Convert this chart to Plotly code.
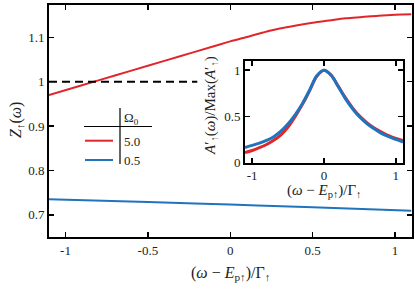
import plotly.graph_objects as go

# ---------------- data ----------------
x_main = [-1.1, -0.9, -0.7, -0.5, -0.3, -0.1, 0.0, 0.1, 0.2, 0.3, 0.4, 0.5,
          0.6, 0.7, 0.8, 0.9, 1.0, 1.1]
z_red = [0.970, 0.992, 1.014, 1.036, 1.058, 1.080, 1.091, 1.101, 1.111, 1.120,
         1.127, 1.133, 1.138, 1.143, 1.146, 1.149, 1.151, 1.152]
x_blue = [-1.1, -0.5, 0.0, 0.5, 1.1]
z_blue = [0.735, 0.729, 0.723, 0.717, 0.709]
x_dash = [-1.1, -0.2]
y_dash = [1.0, 1.0]

x_inset = [-1.1, -1.0, -0.9, -0.8, -0.7, -0.6, -0.5, -0.4, -0.3, -0.2, -0.1, 0.0,
           0.1, 0.2, 0.3, 0.4, 0.5, 0.6, 0.7, 0.8, 0.9, 1.0, 1.1]
a_red = [0.109, 0.13, 0.16, 0.195, 0.24, 0.30, 0.385, 0.50, 0.63, 0.78, 0.935, 1.0,
         0.945, 0.825, 0.70, 0.59, 0.50, 0.43, 0.375, 0.33, 0.29, 0.26, 0.239]
a_blue = [0.163, 0.185, 0.21, 0.24, 0.28, 0.34, 0.42, 0.52, 0.64, 0.785, 0.94, 1.0,
          0.945, 0.82, 0.69, 0.58, 0.49, 0.42, 0.365, 0.315, 0.28, 0.25, 0.222]

legend_labels = ["5.0", "0.5"]
legend_title = "Ω<sub>0</sub>"

main_xticks = [-1, -0.5, 0, 0.5, 1]
main_xtext = ["-1", "-0.5", "0", "0.5", "1"]
main_yticks = [0.7, 0.8, 0.9, 1.0, 1.1]
main_ytext = ["0.7", "0.8", "0.9", "1", "1.1"]
ins_xticks = [-1, 0, 1]
ins_xtext = ["-1", "0", "1"]
ins_yticks = [0, 0.5, 1]
ins_ytext = ["0", "0.5", "1"]

RED = "#e1262b"
BLUE = "#1f74bd"
W, H = 415, 291
FONT = "Liberation Serif, Times New Roman, DejaVu Serif, serif"
TXT = "#222"

def px(x):
    return x / W

def py(y):
    return 1 - y / H

fig = go.Figure()
fig.add_trace(go.Scatter(x=x_main, y=z_red, mode="lines", line=dict(color=RED, width=2, shape="spline"),
                         xaxis="x", yaxis="y", showlegend=False, hoverinfo="skip"))
fig.add_trace(go.Scatter(x=x_blue, y=z_blue, mode="lines", line=dict(color=BLUE, width=2, shape="spline"),
                         xaxis="x", yaxis="y", showlegend=False, hoverinfo="skip"))
fig.add_trace(go.Scatter(x=x_dash, y=y_dash, mode="lines", line=dict(color="black", width=1.8, dash="8px,5px"),
                         xaxis="x", yaxis="y", showlegend=False, hoverinfo="skip"))
fig.add_trace(go.Scatter(x=x_inset, y=a_red, mode="lines", line=dict(color=RED, width=3, shape="spline"),
                         xaxis="x2", yaxis="y2", showlegend=False, hoverinfo="skip"))
fig.add_trace(go.Scatter(x=x_inset, y=a_blue, mode="lines", line=dict(color=BLUE, width=3, shape="spline"),
                         xaxis="x2", yaxis="y2", showlegend=False, hoverinfo="skip"))

axcommon = dict(showline=True, linecolor="black", linewidth=2, mirror="ticks", ticks="inside",
                ticklen=5, tickwidth=1.5, tickcolor="black", showgrid=False, zeroline=False,
                tickfont=dict(family=FONT, size=13, color=TXT))

fig.update_layout(
    width=W, height=H, margin=dict(l=0, r=0, t=0, b=0, autoexpand=False),
    paper_bgcolor="white", plot_bgcolor="white",
    font=dict(family=FONT, size=13, color=TXT),
    xaxis=dict(domain=[px(49), px(411.5)], range=[-1.1, 1.1], tickvals=main_xticks, ticktext=main_xtext,
               anchor="y", **axcommon),
    yaxis=dict(domain=[py(237), py(5)], range=[0.65, 1.173], tickvals=main_yticks, ticktext=main_ytext,
               anchor="x", **axcommon),
    xaxis2=dict(domain=[px(245), px(403)], range=[-1.1, 1.1], tickvals=ins_xticks, ticktext=ins_xtext,
                anchor="y2", **axcommon),
    yaxis2=dict(domain=[py(162.5), py(61)], range=[0, 1.1], tickvals=ins_yticks, ticktext=ins_ytext,
                anchor="x2", **axcommon),
)

ann_font = dict(family=FONT, size=16, color=TXT)
ins_font = dict(family=FONT, size=15, color=TXT)
leg_font = dict(family=FONT, size=13, color=TXT)
annotations = [
    dict(text="<i>Z</i><sub>↑</sub>(<i>ω</i>)", x=px(16), y=py(120), xref="paper", yref="paper",
         xanchor="center", yanchor="middle", textangle=-90, showarrow=False, font=ann_font),
    dict(text="(<i>ω</i> − <i>E</i><sub>p↑</sub>)/Γ<sub>↑</sub>", x=px(230), y=py(262), xref="paper", yref="paper",
         xanchor="center", yanchor="top", showarrow=False, font=ann_font),
    dict(text="(<i>ω</i> − <i>E</i><sub>p↑</sub>)/Γ<sub>↑</sub>", x=px(324), y=py(180), xref="paper", yref="paper",
         xanchor="center", yanchor="top", showarrow=False, font=ins_font),
    dict(text="<i>A</i>′<sub>↑</sub>(<i>ω</i>)/Max(<i>A</i>′<sub>↑</sub>)", x=px(211), y=py(106), xref="paper",
         yref="paper", xanchor="center", yanchor="middle", textangle=-90, showarrow=False, font=ins_font),
    dict(text=legend_title, x=px(122), y=py(118), xref="paper", yref="paper", xanchor="left",
         yanchor="middle", showarrow=False, font=leg_font),
    dict(text=legend_labels[0], x=px(122), y=py(141), xref="paper", yref="paper", xanchor="left",
         yanchor="middle", showarrow=False, font=leg_font),
    dict(text=legend_labels[1], x=px(122), y=py(160), xref="paper", yref="paper", xanchor="left",
         yanchor="middle", showarrow=False, font=leg_font),
]
fig.update_layout(annotations=annotations)

shapes = [
    dict(type="line", xref="paper", yref="paper", x0=px(84), x1=px(152), y0=py(126.5), y1=py(126.5),
         line=dict(color="black", width=1.2)),
    dict(type="line", xref="paper", yref="paper", x0=px(120), x1=px(120), y0=py(108), y1=py(164),
         line=dict(color="black", width=1.2)),
    dict(type="line", xref="paper", yref="paper", x0=px(85), x1=px(113), y0=py(140.7), y1=py(140.7),
         line=dict(color=RED, width=2)),
    dict(type="line", xref="paper", yref="paper", x0=px(85), x1=px(113), y0=py(160), y1=py(160),
         line=dict(color=BLUE, width=2)),
]
fig.update_layout(shapes=shapes)

fig.write_html("out.html", config={"displayModeBar": False, "staticPlot": True},
               post_script="document.body.style.margin='0';")
